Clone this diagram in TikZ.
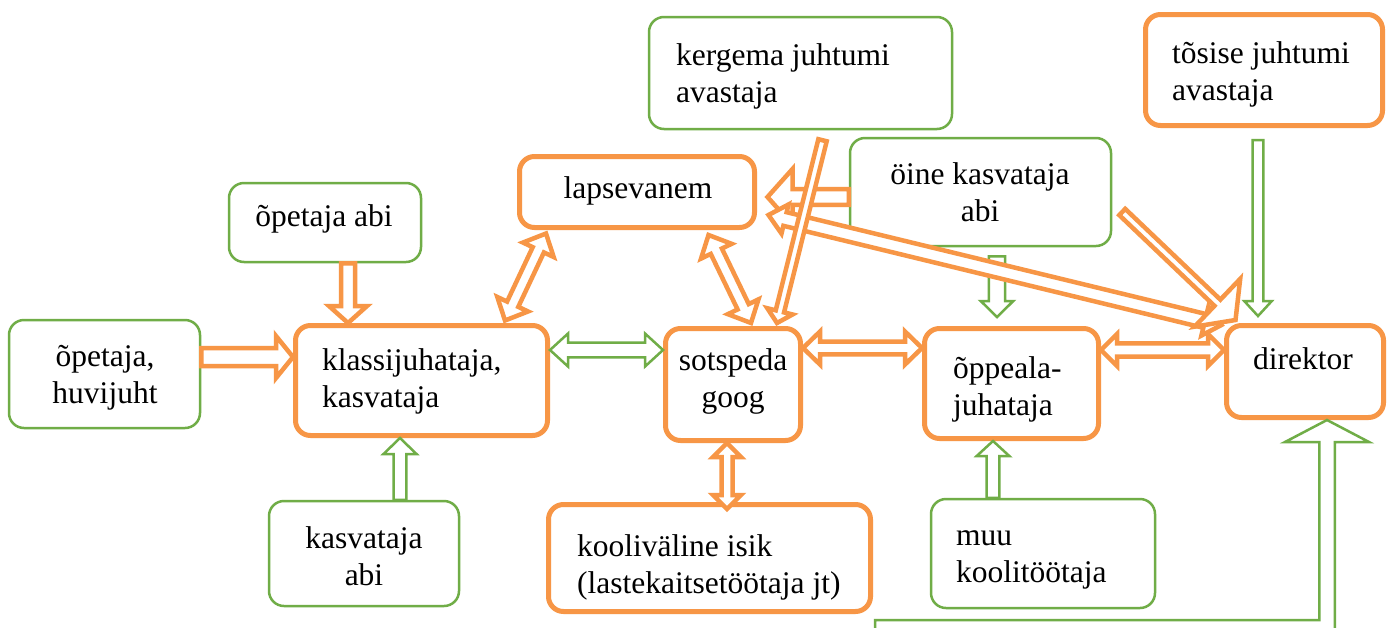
\documentclass[tikz,border=0pt]{standalone}
\usepackage{fontspec}
\setmainfont{Liberation Serif}
\usetikzlibrary{calc}
\definecolor{orC}{HTML}{F79646}
\definecolor{grC}{HTML}{70AD47}
\tikzset{
  obox/.style={draw=orC, line width=5pt, rounded corners=15pt, fill=white, inner sep=0pt},
  gbox/.style={draw=grC, line width=2.5pt, rounded corners=15pt, fill=white, inner sep=0pt},
  txt/.style={inner sep=0pt, font=\fontsize{31.5}{37}\selectfont},
  oarr/.style={draw=orC, line width=4.5pt, fill=white, line join=miter, miter limit=10},
  garr/.style={draw=grC, line width=2.5pt, fill=white, line join=miter, miter limit=10},
}
\newcommand{\sarrow}[6]{%
  \path[#1] let \p1=#2, \p2=#3, \n1={atan2(\y2-\y1,\x2-\x1)}, \n2={veclen(\x2-\x1,\y2-\y1)} in
  [shift={(\p1)}, rotate=\n1] (0pt,#4pt) -- (\n2-#6pt,#4pt) -- (\n2-#6pt,#5pt) -- (\n2,0pt)
  -- (\n2-#6pt,-#5pt) -- (\n2-#6pt,-#4pt) -- (0pt,-#4pt) -- cycle;}
\newcommand{\darrow}[6]{%
  \path[#1] let \p1=#2, \p2=#3, \n1={atan2(\y2-\y1,\x2-\x1)}, \n2={veclen(\x2-\x1,\y2-\y1)} in
  [shift={(\p1)}, rotate=\n1] (0pt,0pt) -- (#6pt,#5pt) -- (#6pt,#4pt) -- (\n2-#6pt,#4pt)
  -- (\n2-#6pt,#5pt) -- (\n2,0pt) -- (\n2-#6pt,-#5pt) -- (\n2-#6pt,-#4pt) -- (#6pt,-#4pt)
  -- (#6pt,-#5pt) -- cycle;}
\begin{document}
\begin{tikzpicture}[x=1pt,y=-1pt]
\useasboundingbox[fill=white] (0,0) rectangle (1394,627);
% boxes
\node[gbox, minimum width=303pt, minimum height=112pt] (ker) at (800.5,73) {};
\node[obox, minimum width=237pt, minimum height=111pt] (tos) at (1264,70) {};
\node[gbox, minimum width=261pt, minimum height=108pt] (oine) at (980.5,192) {};
\node[obox, minimum width=235pt, minimum height=71pt] (lap) at (637,192) {};
\node[gbox, minimum width=192pt, minimum height=79pt] (opab) at (325,222.5) {};
\node[gbox, minimum width=191pt, minimum height=108pt] (oph) at (104.5,374) {};
\node[obox, minimum width=252pt, minimum height=110pt] (kl) at (421.5,380.5) {};
\node[obox, minimum width=135pt, minimum height=112pt] (sots) at (733,384.5) {};
\node[obox, minimum width=174pt, minimum height=110pt] (opp) at (1011.5,383.5) {};
\node[obox, minimum width=157pt, minimum height=92pt] (dir) at (1305,371.5) {};
\node[gbox, minimum width=190pt, minimum height=105pt] (kab) at (364,553.5) {};
\node[obox, minimum width=322pt, minimum height=107pt] (kool) at (709.5,558) {};
\node[gbox, minimum width=224pt, minimum height=109pt] (muu) at (1043,553.5) {};
% texts
\node[txt, anchor=north west, align=left] (tker) at (676,39) {\strut kergema juhtumi\\avastaja\strut};
\node[txt, anchor=north west, align=left] (ttos) at (1172,37) {\strut tõsise juhtumi\\avastaja\strut};
\node[txt, anchor=north, align=center] (toine) at (980,158) {\strut öine kasvataja\\abi\strut};
\node[txt, anchor=north] (tlap) at (638,172) {\strut lapsevanem};
\node[txt, anchor=north] (topab) at (324,200) {\strut õpetaja abi};
\node[txt, anchor=north, align=center] (toph) at (105,340) {\strut õpetaja,\\huvijuht\strut};
\node[txt, anchor=north west, align=left] (tkl) at (322,344) {\strut klassijuhataja,\\kasvataja\strut};
\node[txt, anchor=north, align=center] (tsots) at (733,344) {\strut sotspeda\\goog\strut};
\node[txt, anchor=north west, align=left] (topp) at (953,352) {\strut õppeala-\\juhataja\strut};
\node[txt, anchor=north] (tdir) at (1303,343) {\strut direktor};
\node[txt, anchor=north, align=center] (tkab) at (364,522) {\strut kasvataja\\abi\strut};
\node[txt, anchor=north west, align=left] (tkool) at (577,530) {\strut kooliväline isik\\(lastekaitsetöötaja jt)\strut};
\node[txt, anchor=north west, align=left] (tmuu) at (956,519) {\strut muu\\koolitöötaja\strut};
% arrows
\sarrow{oarr}{(oph.east |- 0,357)}{(kl.west |- 0,357)}{9}{21}{17}
\sarrow{oarr}{(opab.south -| 348,0)}{(kl.north -| 348,0)}{7}{19}{17}
\sarrow{garr}{(kab.north -| 400,0)}{(kl.south -| 400,0)}{6.3}{16.5}{16}
\darrow{garr}{(kl.east |- 0,350)}{(sots.west |- 0,350)}{7.3}{16.5}{18}
\darrow{oarr}{($(kl.north)+(83.5,-2.5)$)}{($(lap.south)+(-91,3.5)$)}{6.2}{17}{18}
\darrow{oarr}{($(lap.south)+(71.5,5)$)}{($(sots.north)+(18,-3)$)}{6.2}{17}{18}
\darrow{oarr}{(sots.east |- 0,348)}{(opp.west |- 0,348)}{6.3}{16.5}{17}
\darrow{oarr}{(opp.east |- 0,350)}{(dir.west |- 0,350)}{6.7}{16}{16}
\sarrow{garr}{($(oine.south)+(16.5,9)$)}{($(opp.north)+(-14.5,-9)$)}{8.2}{16.3}{16}
\sarrow{garr}{($(tos.south)+(-6,12)$)}{($(dir.north)+(-47,-7)$)}{5.3}{13.8}{15}
\darrow{oarr}{(sots.south -| 727,0)}{($(kool.north)+(17.5,7)$)}{5.5}{14}{14}
\sarrow{garr}{(muu.north -| 993,0)}{(opp.south -| 993,0)}{6.3}{16.3}{15}
\begin{scope}
\clip (0,0) rectangle (1394,627);
\draw[garr, fill=none] (875,640) -- (875,620) -- (1319.25,620) -- (1319.25,442) -- (1285,442)
  -- (dir.south -| 1327,0) -- (1369,442) -- (1334.75,442) -- (1334.75,640);
\end{scope}
\sarrow{oarr}{($(oine.west)+(0,5)$)}{($(lap.east)+(10.5,5)$)}{7.8}{28}{25}
\darrow{oarr}{($(lap.east)+(11.5,23)$)}{($(dir.west)+(-2.5,-46.5)$)}{7}{15}{17}
\sarrow{oarr}{($(oine.east)+(10,20)$)}{($(dir.west)+(11.5,-51.5)$)}{4.3}{33}{25}
\sarrow{oarr}{($(ker.south)+(22,10)$)}{($(sots.north)+(44,-3)$)}{4.3}{13}{12}
\end{tikzpicture}
\end{document}
